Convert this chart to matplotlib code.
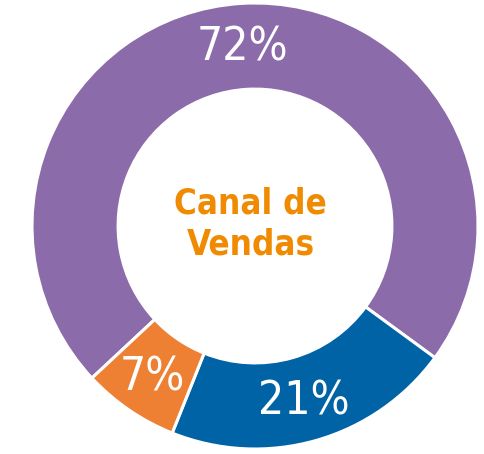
import matplotlib.pyplot as plt

# dados do grafico
valores = [72, 21, 7]
rotulos = ["72%", "21%", "7%"]
cores = ["#8B6BAA", "#0063A6", "#EE8033"]
titulo = "Canal de\nVendas"

fonte = ["DejaVu Sans"]

fig = plt.figure(figsize=(4.85, 4.54), dpi=100)
ax = fig.add_axes([0, 0, 1, 1])

wedges, _ = ax.pie(valores, startangle=223, counterclock=False, colors=cores,
                   radius=1, wedgeprops=dict(width=0.386, edgecolor="white", linewidth=2.2))

# posicoes dos rotulos (unidades do raio)
pos = [(-0.058, 0.80), (0.217, -0.789), (-0.462, -0.682)]
for (x, y), txt in zip(pos, rotulos):
    ax.text(x, y, txt, ha="center", va="center", color="white",
            fontsize=33, family=fonte, fontstretch="condensed")

ax.text(-0.02, 0.01, titulo, ha="center", va="center", color="#F08A00",
        fontsize=25, fontweight="bold", family=fonte, fontstretch="condensed",
        linespacing=1.25)

s = 223.0
ax.set_xlim(-255 / s, (485 - 255) / s)
ax.set_ylim(-(454 - 226) / s, 226 / s)
ax.set_aspect("auto")
ax.axis("off")

fig.savefig("out.png", dpi=100)
